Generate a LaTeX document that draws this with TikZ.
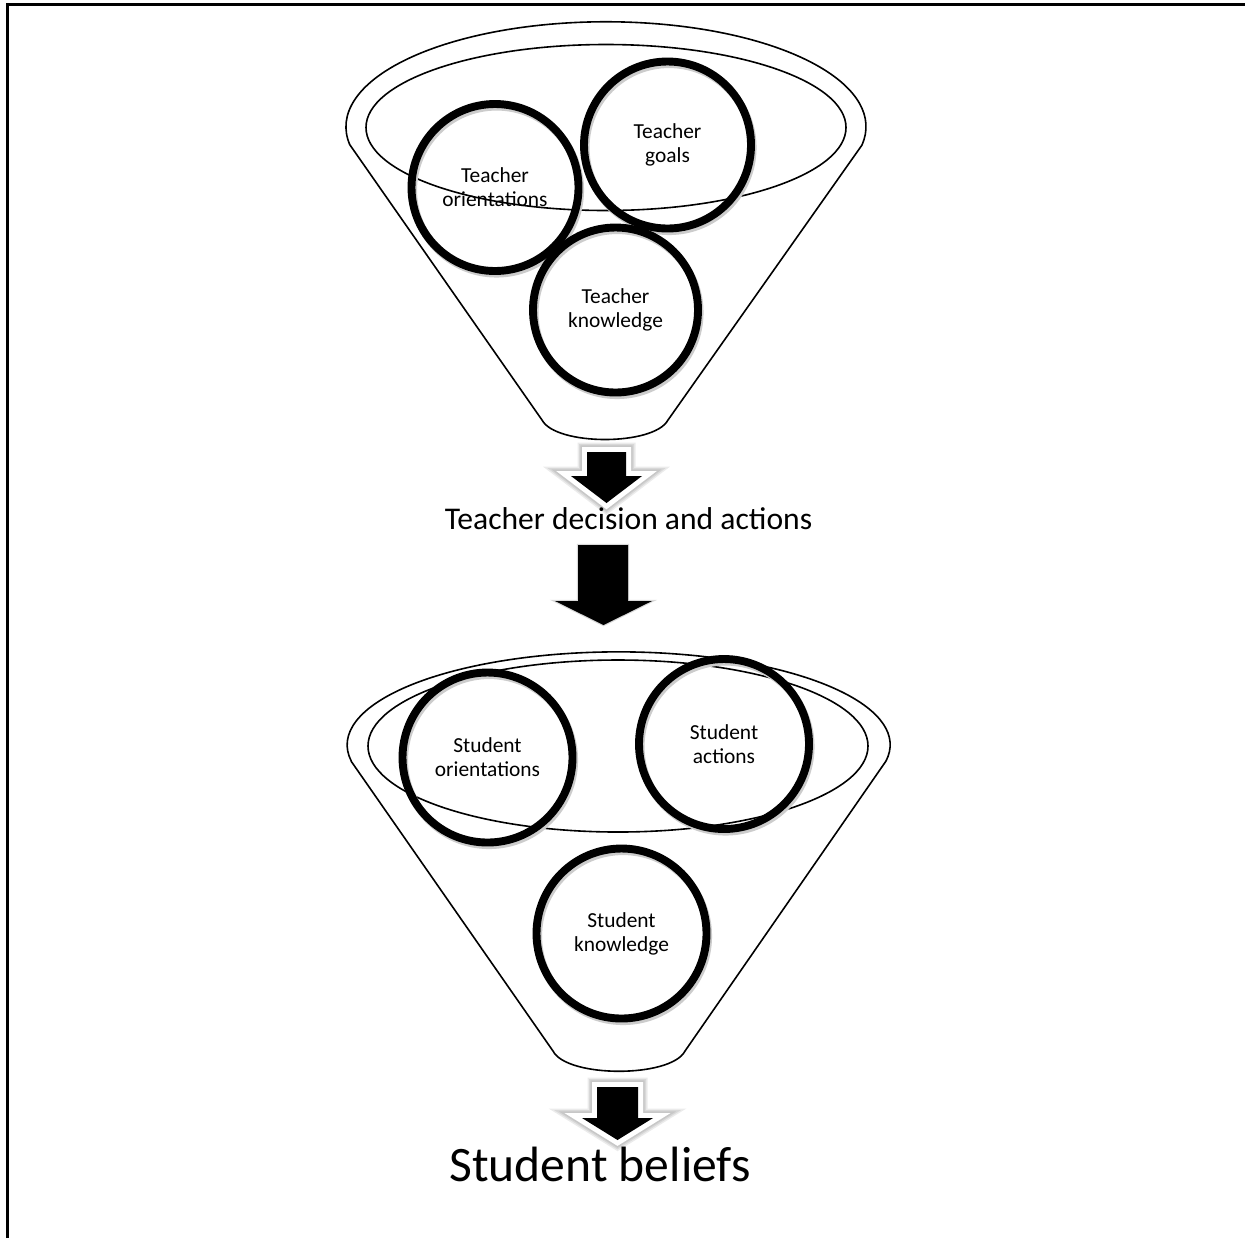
\documentclass[tikz,border=0pt]{standalone}
\usepackage{fontspec}
\setmainfont{Carlito}
\begin{document}
\begin{tikzpicture}[x=0.5pt,y=-0.5pt,
  outline/.style={draw=black, line width=0.8pt, line join=round},
  bubble/.style={circle, draw=black, line width=3.95pt, inner sep=0pt, align=center,
    font=\fontsize{10.7}{12}\selectfont,
    preaction={draw=black!20, line width=3.95pt,
      transform canvas={xshift=0.8pt,yshift=-1.3pt}}},
  glowline/.style={draw=black, draw opacity=0.08, line width=#1, line join=miter},
  halo/.style={draw=white, line width=5pt, line join=miter},
  blockfill/.style={fill=black},
]
% page and frame
\fill[white] (0,0) rectangle (1245,1238);
\useasboundingbox (0,0) rectangle (1245,1238);
\draw[line width=1.2pt, line join=miter] (7.5,1238) -- (7.5,4.5) -- (1245,4.5);

% ---------- upper funnel ----------
\draw[outline] (350,145) -- (542,420) .. controls (556,446) and (654,446) .. (668,420)
  -- (862,145) arc[start angle=10, end angle=-190, x radius=260, y radius=105];
\draw[outline] (606,127.5) ellipse[x radius=240, y radius=83];

\node[bubble, minimum size=83.5pt] (tor) at (495,187.5) {Teacher\\orientations};
\node[bubble, minimum size=83.5pt] (tgo) at (667.5,145) {Teacher\\goals};
\node[bubble, minimum size=82.5pt] (tkn) at (615.5,310) {Teacher\\knowledge};

% ---------- lower funnel ----------
\draw[outline] (351,761) -- (553,1051) .. controls (567,1078) and (671,1078) .. (685,1051)
  -- (886,761) arc[start angle=10, end angle=-190, x radius=271.5, y radius=93];
\draw[outline] (618,746) ellipse[x radius=250, y radius=86];

\node[bubble, minimum size=85pt] (sor) at (487.5,757.5) {Student\\orientations};
\node[bubble, minimum size=85pt] (sac) at (724,744) {Student\\actions};
\node[bubble, minimum size=85pt] (skn) at (621.5,933.5) {Student\\knowledge};

% ---------- block arrows ----------
\def\arrowA{(587,452) -- (626,452) -- (626,476) -- (642,476) -- (606.5,503) -- (571,476) -- (587,476) -- cycle}
\def\arrowC{(597,1087) -- (638,1087) -- (638,1118) -- (653,1118) -- (617.5,1140) -- (582,1118) -- (597,1118) -- cycle}
\def\arrowB{(578,545) -- (628,545) -- (628,601) -- (652,601) -- (603.5,625) -- (555,601) -- (578,601) -- cycle}

\foreach \w in {9.5pt,8pt,6.6pt} {
  \path[glowline=\w] \arrowA;
  \path[glowline=\w] \arrowC;
}
\path[halo] \arrowA;
\path[halo] \arrowC;
\path[blockfill] \arrowA;
\path[blockfill] \arrowC;
\path[draw=black, draw opacity=0.15, line width=1.2pt, line join=miter] \arrowB;
\path[blockfill] \arrowB;

% ---------- captions ----------
\node[font=\fontsize{15.8}{19}\selectfont, anchor=base, inner sep=0pt] (dec) at (628.5,529) {Teacher decision and actions};
\node[font=\fontsize{24.8}{30}\selectfont, anchor=base, inner sep=0pt] (bel) at (600,1181) {Student beliefs};
\end{tikzpicture}
\end{document}
